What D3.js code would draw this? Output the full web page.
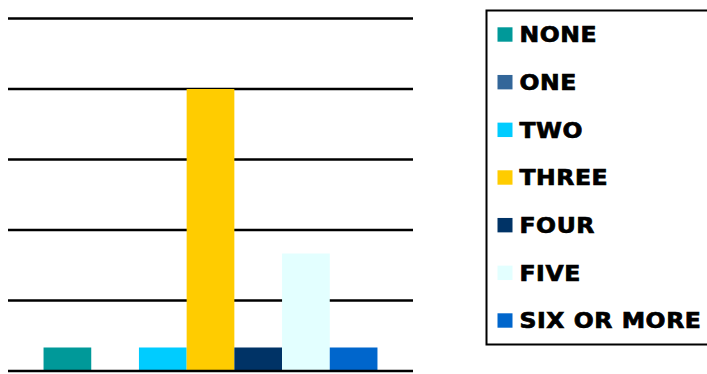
<!DOCTYPE html>
<html>
<head>
<meta charset="utf-8">
<script src="https://cdn.jsdelivr.net/npm/d3@7/dist/d3.min.js"></script>
<style>
  html, body { margin: 0; padding: 0; background: #fff; }
  svg { display: block; }
  .legend text { font-family: "DejaVu Sans", Verdana, sans-serif; font-weight: bold; font-size: 21px; letter-spacing: 0.5px; fill: #000; stroke: #000; stroke-width: 0.7px; }
</style>
</head>
<body>
<svg id="chart" width="707" height="374"></svg>
<script>
// Number of households by count of children
const seriesNames = ["NONE", "ONE", "TWO", "THREE", "FOUR", "FIVE", "SIX OR MORE"];
const seriesValues = [1, 0, 1, 12, 1, 5, 1];
const seriesColors = ["#009999", "#336699", "#00CCFF", "#FFCC00", "#003366", "#E3FFFF", "#0066CC"];
const yTicks = [0, 3, 6, 9, 12, 15];

const svg = d3.select("#chart");

const plot = { left: 8, right: 413, top: 18.5, bottom: 371 };

const y = d3.scaleLinear().domain([0, 15]).range([plot.bottom, plot.top]);
const x = d3.scaleBand()
  .domain(seriesNames)
  .range([plot.left, plot.right])
  .paddingInner(0)
  .paddingOuter(0.745);

// horizontal gridlines
svg.append("g")
  .selectAll("line")
  .data(yTicks.filter(d => d > 0))
  .join("line")
  .attr("x1", plot.left).attr("x2", plot.right)
  .attr("y1", d => y(d)).attr("y2", d => y(d))
  .attr("stroke", "#000").attr("stroke-width", 2.4);

// bars
svg.append("g")
  .selectAll("rect")
  .data(seriesNames.map((n, i) => ({ name: n, value: seriesValues[i], color: seriesColors[i] })))
  .join("rect")
  .attr("x", d => x(d.name))
  .attr("width", x.bandwidth())
  .attr("y", d => y(d.value))
  .attr("height", d => y(0) - y(d.value))
  .attr("fill", d => d.color);

// category axis baseline
svg.append("line")
  .attr("x1", plot.left).attr("x2", plot.right)
  .attr("y1", y(0)).attr("y2", y(0))
  .attr("stroke", "#000").attr("stroke-width", 2.4);

// legend
const legend = svg.append("g").attr("class", "legend");
legend.append("rect")
  .attr("x", 486.5).attr("y", 10.5)
  .attr("width", 240).attr("height", 334)
  .attr("fill", "#fff").attr("stroke", "#000").attr("stroke-width", 2);

const rowY = d3.scalePoint().domain(seriesNames).range([34.5, 320.5]);
const rows = legend.selectAll("g.row")
  .data(seriesNames.map((n, i) => ({ name: n, color: seriesColors[i] })))
  .join("g").attr("class", "row")
  .attr("transform", d => `translate(0,${rowY(d.name)})`);
rows.append("rect")
  .attr("x", 497.5).attr("y", -7.2)
  .attr("width", 15).attr("height", 14.4)
  .attr("fill", d => d.color);
rows.append("text")
  .attr("transform", "translate(519.5,7.8) scale(1.12,1)")
  .text(d => d.name);
</script>
</body>
</html>
